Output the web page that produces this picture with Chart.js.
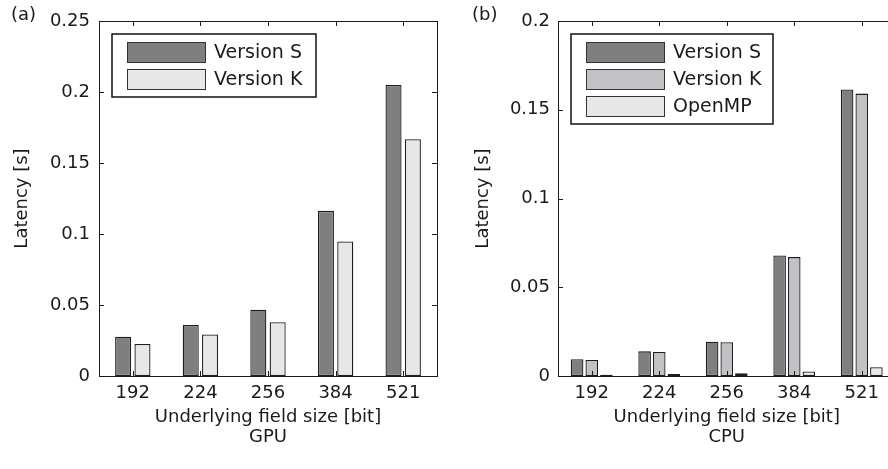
<!DOCTYPE html>
<html lang="en">
<head>
    <meta charset="UTF-8">
    <title>Latency GPU / CPU</title>
    <script src="https://cdn.jsdelivr.net/npm/chart.js"></script>
    <style>
        html, body { margin: 0; padding: 0; background: #fff; overflow: hidden; width: 888px; height: 469px; }
        .panel { position: absolute; top: 0; height: 469px; }
        #panelA { left: 0; width: 444px; }
        #panelB { left: 444px; width: 460px; }
        .tag { position: absolute; top: 3px; font: 18px "DejaVu Sans", sans-serif; color: #1a1a1a; }
    </style>
</head>
<body>
    <div class="panel" id="panelA"><canvas id="chartA" width="444" height="469"></canvas></div>
    <div class="panel" id="panelB"><canvas id="chartB" width="460" height="469"></canvas></div>
    <div class="tag" style="left:11px">(a)</div>
    <div class="tag" style="left:472px">(b)</div>

    <script>
        // datos
        const fieldSizes = ['192', '224', '256', '384', '521'];

        const gpuVersionS = [0.0277, 0.0359, 0.0467, 0.1163, 0.2050];
        const gpuVersionK = [0.0225, 0.0293, 0.0378, 0.0948, 0.1668];

        const cpuVersionS = [0.0094, 0.0139, 0.0193, 0.0679, 0.1614];
        const cpuVersionK = [0.0090, 0.0135, 0.0190, 0.0670, 0.1591];
        const cpuOpenMP = [0.0007, 0.0011, 0.0015, 0.0026, 0.0049];

        const gpuTicks = [0, 0.05, 0.1, 0.15, 0.2, 0.25];
        const cpuTicks = [0, 0.05, 0.1, 0.15, 0.2];

        const FONT = '"DejaVu Sans", sans-serif';
        const INK = '#1a1a1a';

        // caja de ejes estilo MATLAB con marcas hacia adentro
        const boxPlugin = {
            id: 'box',
            afterDatasetsDraw(chart) {
                const { ctx, chartArea: a, scales } = chart;
                ctx.save();
                ctx.strokeStyle = INK;
                ctx.lineWidth = 1;
                ctx.strokeRect(Math.round(a.left) + 0.5, Math.round(a.top) + 0.5,
                    Math.round(a.right - a.left), Math.round(a.bottom - a.top));
                const len = 5;
                ctx.beginPath();
                scales.x.ticks.forEach((t, i) => {
                    const x = Math.round(scales.x.getPixelForTick(i)) + 0.5;
                    ctx.moveTo(x, a.bottom); ctx.lineTo(x, a.bottom - len);
                    ctx.moveTo(x, a.top); ctx.lineTo(x, a.top + len);
                });
                scales.y.ticks.forEach(t => {
                    const y = Math.round(scales.y.getPixelForValue(t.value)) + 0.5;
                    ctx.moveTo(a.left, y); ctx.lineTo(a.left + len, y);
                    ctx.moveTo(a.right, y); ctx.lineTo(a.right - len, y);
                });
                ctx.stroke();
                ctx.restore();
            }
        };

        // leyenda dentro del area del grafico
        const boxLegend = {
            id: 'boxLegend',
            afterDraw(chart, args, opts) {
                const { ctx, chartArea: a } = chart;
                const sets = chart.data.datasets;
                const x0 = a.left + opts.dx, y0 = a.top + 13;
                ctx.save();
                ctx.fillStyle = '#fff';
                ctx.fillRect(x0, y0, opts.w, 9 + sets.length * 27);
                ctx.strokeStyle = '#111';
                ctx.lineWidth = 1.5;
                ctx.strokeRect(x0, y0, opts.w, 9 + sets.length * 27);
                ctx.font = '19px ' + FONT;
                ctx.textBaseline = 'middle';
                sets.forEach((ds, i) => {
                    const py = y0 + 8 + i * 27;
                    ctx.fillStyle = ds.backgroundColor;
                    ctx.fillRect(x0 + 15.5, py, 78, 20);
                    ctx.strokeStyle = '#333';
                    ctx.lineWidth = 1;
                    ctx.strokeRect(x0 + 15.5, py + 0.5, 78, 20);
                    ctx.fillStyle = INK;
                    ctx.fillText(ds.label, x0 + 102, py + 11);
                });
                ctx.restore();
            }
        };

        function barSet(label, data, color, cat, bar) {
            return {
                label: label,
                data: data,
                backgroundColor: color,
                borderColor: '#1e1e1e',
                borderWidth: 1.3,
                borderSkipped: false,
                categoryPercentage: cat,
                barPercentage: bar
            };
        }

        function makeChart(id, datasets, ticks, yMax, cfg) {
            return new Chart(document.getElementById(id).getContext('2d'), {
                type: 'bar',
                data: { labels: fieldSizes, datasets: datasets },
                options: {
                    responsive: false,
                    animation: false,
                    layout: { padding: { top: 21, right: cfg.padRight, left: 0, bottom: 0 } },
                    plugins: {
                        legend: { display: false },
                        tooltip: { enabled: false },
                        boxLegend: { dx: cfg.legendDx, w: cfg.legendW }
                    },
                    scales: {
                        x: {
                            grid: { display: false, drawTicks: false },
                            border: { display: false },
                            ticks: { color: INK, font: { family: FONT, size: 18 }, padding: 7 },
                            title: {
                                display: true,
                                text: ['Underlying field size [bit]', cfg.device],
                                color: INK,
                                font: { family: FONT, size: 18, lineHeight: 1.1 },
                                padding: { top: 0, bottom: 22 }
                            },
                            afterFit(s) { s.height = 93; }
                        },
                        y: {
                            min: 0,
                            max: yMax,
                            grid: { display: false, drawTicks: false },
                            border: { display: false },
                            afterBuildTicks(s) { s.ticks = ticks.map(v => ({ value: v })); },
                            ticks: {
                                color: INK,
                                font: { family: FONT, size: 18 },
                                padding: cfg.tickPad,
                                callback: v => String(v)
                            },
                            title: {
                                display: true,
                                text: 'Latency [s]',
                                color: INK,
                                font: { family: FONT, size: 18 },
                                padding: { top: cfg.titlePad, bottom: 0 }
                            },
                            afterFit(s) { s.width = cfg.yWidth; }
                        }
                    }
                },
                plugins: [boxPlugin, boxLegend]
            });
        }

        makeChart('chartA', [
            barSet('Version S', gpuVersionS, '#7f7f80', 0.572, 0.83),
            barSet('Version K', gpuVersionK, '#e6e7e9', 0.572, 0.83)
        ], gpuTicks, 0.25, {
            device: 'GPU', padRight: 7, yWidth: 99, tickPad: 9, titlePad: 12,
            legendDx: 13, legendW: 204
        });

        makeChart('chartB', [
            barSet('Version S', cpuVersionS, '#7f7f80', 0.65, 0.86),
            barSet('Version K', cpuVersionK, '#c1c2c5', 0.65, 0.86),
            barSet('OpenMP', cpuOpenMP, '#e6e7e9', 0.65, 0.86)
        ], cpuTicks, 0.2, {
            device: 'CPU', padRight: 8.5, yWidth: 114, tickPad: 8, titlePad: 29,
            legendDx: 13, legendW: 202
        });
    </script>
</body>
</html>
